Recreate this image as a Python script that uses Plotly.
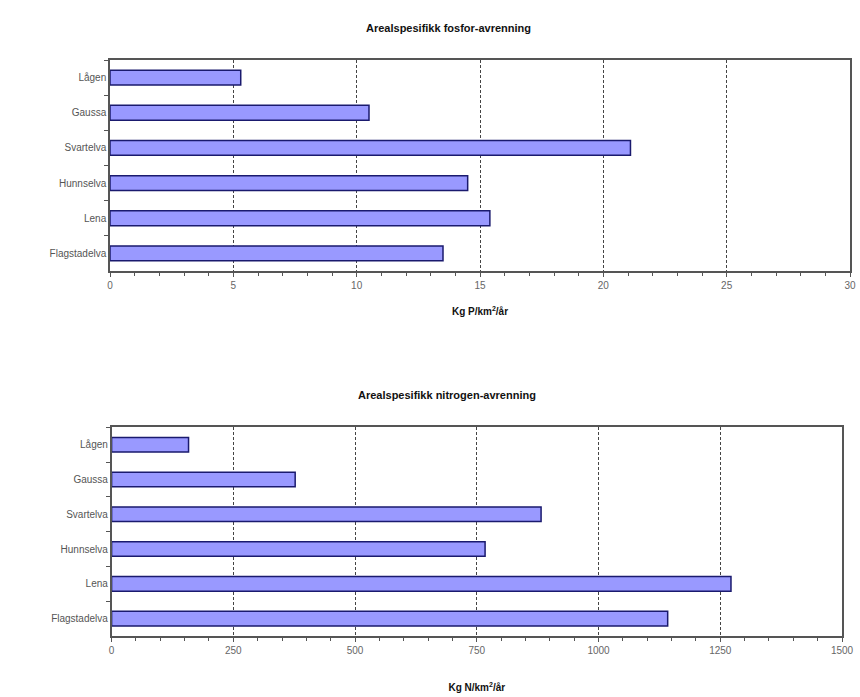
import plotly.graph_objects as go

categories = ["Lågen", "Gaussa", "Svartelva", "Hunnselva", "Lena", "Flagstadelva"]
fosfor = [5.3, 10.5, 21.1, 14.5, 15.4, 13.5]
nitrogen = [158, 377, 882, 767, 1272, 1142]

title_top = "Arealspesifikk fosfor-avrenning"
title_bottom = "Arealspesifikk nitrogen-avrenning"
xtitle_top = "Kg P/km<sup>2</sup>/år"
xtitle_bottom = "Kg N/km<sup>2</sup>/år"

W, H = 860, 697
FONT = "Liberation Sans, Arial, sans-serif"
bar_fill = "#9999FF"
bar_line = "#1a1a6e"

fig = go.Figure()
fig.add_trace(go.Bar(y=categories, x=fosfor, orientation="h", xaxis="x", yaxis="y",
                     marker=dict(color=bar_fill, line=dict(color=bar_line, width=1.5)),
                     showlegend=False))
fig.add_trace(go.Bar(y=categories, x=nitrogen, orientation="h", xaxis="x2", yaxis="y2",
                     marker=dict(color=bar_fill, line=dict(color=bar_line, width=1.5)),
                     showlegend=False))

def px_x(p):
    return p / W

def px_y(p):
    return 1 - p / H

common_x = dict(showgrid=True, gridcolor="#444444", griddash="3px,2px", gridwidth=1,
                showline=True, linecolor="#555555", linewidth=1.5, mirror=True,
                ticks="outside", ticklen=4, tickcolor="#555555",
                tickfont=dict(family=FONT, size=10, color="#666666"),
                zeroline=False, fixedrange=True)
common_y = dict(showline=True, linecolor="#555555", linewidth=1.5, mirror=True,
                ticks="outside", ticklen=4, tickcolor="#555555", tickson="boundaries",
                tickfont=dict(family=FONT, size=10, color="#555555"),
                autorange="reversed", showgrid=False, fixedrange=True)

fig.update_layout(
    width=W, height=H,
    margin=dict(l=0, r=0, t=0, b=0, autoexpand=False),
    paper_bgcolor="white", plot_bgcolor="white",
    bargap=0.58,
    xaxis=dict(domain=[px_x(110), px_x(850)], anchor="y", range=[0, 30], dtick=5,
               minor=dict(dtick=1, ticks="outside", ticklen=3, tickcolor="#555555"),
               title=dict(text="<b>" + xtitle_top + "</b>", font=dict(family=FONT, size=10, color="#111"), standoff=18),
               **common_x),
    yaxis=dict(domain=[px_y(271), px_y(60)], anchor="x", **common_y),
    xaxis2=dict(domain=[px_x(111.6), px_x(842)], anchor="y2", range=[0, 1500], dtick=250,
                minor=dict(dtick=50, ticks="outside", ticklen=3, tickcolor="#555555"),
                title=dict(text="<b>" + xtitle_bottom + "</b>", font=dict(family=FONT, size=10, color="#111"), standoff=29),
                **common_x),
    yaxis2=dict(domain=[px_y(636), px_y(427.3)], anchor="x2", **common_y),
    annotations=[
        dict(text="<b>" + title_top + "</b>", x=px_x(448), y=px_y(28), xref="paper", yref="paper",
             xanchor="center", yanchor="middle", showarrow=False,
             font=dict(family=FONT, size=11, color="#111")),
        dict(text="<b>" + title_bottom + "</b>", x=px_x(447), y=px_y(395), xref="paper", yref="paper",
             xanchor="center", yanchor="middle", showarrow=False,
             font=dict(family=FONT, size=11, color="#111")),
    ],
)

fig.write_html("out.html", config={"displayModeBar": False},
               post_script="document.documentElement.style.margin='0';document.body.style.margin='0';document.body.style.overflow='hidden';")
